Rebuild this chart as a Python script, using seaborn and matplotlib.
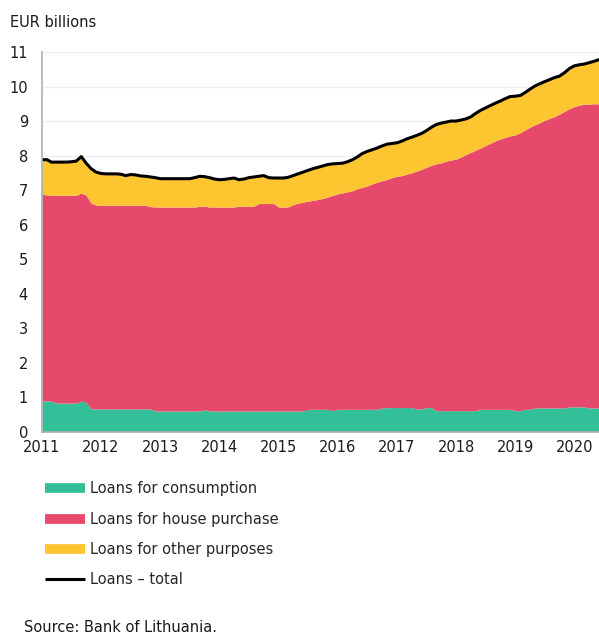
import seaborn as sns
import numpy as np
import pandas as pd
import matplotlib.pyplot as plt
from matplotlib.lines import Line2D

# Data (EUR billions, monthly, Jan 2011 - Jun 2020) #

months = pd.date_range("2011-01-01", "2020-06-01", freq="MS")

consumption = [
	0.89, 0.89, 0.89, 0.83, 0.83, 0.83, 0.83, 0.83, 0.89, 0.85, 0.66, 0.66,
	0.66, 0.66, 0.66, 0.66, 0.66, 0.66, 0.66, 0.66, 0.66, 0.66, 0.66, 0.60,
	0.60, 0.60, 0.60, 0.60, 0.60, 0.60, 0.60, 0.60, 0.60, 0.64, 0.60, 0.60,
	0.60, 0.60, 0.60, 0.60, 0.60, 0.60, 0.60, 0.60, 0.60, 0.60, 0.60, 0.60,
	0.60, 0.60, 0.60, 0.60, 0.60, 0.60, 0.65, 0.65, 0.65, 0.65, 0.65, 0.61,
	0.65, 0.65, 0.65, 0.65, 0.65, 0.65, 0.65, 0.65, 0.65, 0.69, 0.70, 0.70,
	0.70, 0.70, 0.70, 0.70, 0.66, 0.66, 0.70, 0.70, 0.61, 0.61, 0.61, 0.61,
	0.61, 0.61, 0.61, 0.61, 0.61, 0.65, 0.65, 0.65, 0.65, 0.65, 0.65, 0.65,
	0.61, 0.61, 0.65, 0.65, 0.69, 0.69, 0.69, 0.69, 0.69, 0.69, 0.69, 0.72,
	0.72, 0.72, 0.72, 0.69, 0.69, 0.69,
]

house_purchase = [
	5.99, 5.97, 5.96, 6.02, 6.02, 6.02, 6.02, 6.02, 6.03, 6.00, 5.96, 5.91,
	5.90, 5.90, 5.90, 5.90, 5.90, 5.90, 5.90, 5.90, 5.90, 5.90, 5.86, 5.91,
	5.91, 5.91, 5.91, 5.91, 5.91, 5.91, 5.91, 5.91, 5.93, 5.89, 5.91, 5.91,
	5.91, 5.91, 5.91, 5.91, 5.93, 5.93, 5.93, 5.93, 6.01, 6.01, 6.01, 6.01,
	5.91, 5.91, 5.91, 5.98, 6.02, 6.05, 6.03, 6.05, 6.08, 6.11, 6.15, 6.24,
	6.24, 6.27, 6.30, 6.33, 6.39, 6.43, 6.47, 6.53, 6.58, 6.58, 6.61, 6.66,
	6.70, 6.72, 6.76, 6.80, 6.89, 6.94, 6.96, 7.02, 7.15, 7.18, 7.23, 7.26,
	7.29, 7.35, 7.42, 7.48, 7.55, 7.57, 7.64, 7.71, 7.78, 7.83, 7.88, 7.92,
	7.99, 8.05, 8.09, 8.17, 8.20, 8.26, 8.33, 8.39, 8.44, 8.51, 8.59, 8.64,
	8.70, 8.74, 8.77, 8.80, 8.81, 8.81,
]

other_purposes = [
	1.00, 1.02, 0.96, 0.96, 0.96, 0.96, 0.97, 0.99, 1.05, 0.93, 1.00, 0.95,
	0.92, 0.91, 0.91, 0.91, 0.90, 0.86, 0.89, 0.88, 0.85, 0.84, 0.86, 0.85,
	0.82, 0.82, 0.82, 0.82, 0.82, 0.82, 0.82, 0.85, 0.87, 0.86, 0.85, 0.81,
	0.79, 0.80, 0.82, 0.84, 0.77, 0.79, 0.83, 0.85, 0.79, 0.81, 0.75, 0.74,
	0.84, 0.84, 0.86, 0.84, 0.85, 0.87, 0.89, 0.92, 0.93, 0.94, 0.94, 0.91,
	0.88, 0.86, 0.87, 0.90, 0.92, 0.98, 1.00, 0.99, 0.99, 1.01, 1.02, 0.99,
	0.97, 1.00, 1.02, 1.03, 1.03, 1.04, 1.06, 1.10, 1.14, 1.15, 1.13, 1.13,
	1.10, 1.07, 1.03, 1.03, 1.06, 1.09, 1.09, 1.09, 1.09, 1.10, 1.12, 1.14,
	1.12, 1.08, 1.08, 1.10, 1.12, 1.13, 1.12, 1.12, 1.13, 1.10, 1.12, 1.16,
	1.18, 1.17, 1.16, 1.20, 1.23, 1.28,
]

labels = ["Loans for consumption", "Loans for house purchase",
	"Loans for other purposes", "Loans \u2013 total"]
colors = ["#33bf97", "#e6496c", "#fdc631", "#000000"]
year_ticks = list(range(2011, 2021))

df = pd.DataFrame({
	"month": months,
	"consumption": consumption,
	"house": house_purchase,
	"other": other_purposes,
})
df["total"] = df["consumption"] + df["house"] + df["other"]

# Plot #

sns.set_style("white")
plt.rcParams["font.family"] = ["DejaVu Sans"]

fig = plt.figure(figsize=(5.99, 6.34), dpi=100)
ax = fig.add_axes([0.070, 0.319, 0.930, 0.599])

ax.stackplot(df["month"], df["consumption"], df["house"], df["other"],
	colors=colors[:3], linewidth=0)
sns.lineplot(data=df, x="month", y="total", color=colors[3], linewidth=2.2, ax=ax)

ax.set_ylim(0, 11)
ax.set_yticks(range(0, 12))
ax.set_xlim(months[0], months[-1])
ax.set_xticks([pd.Timestamp(f"{y}-01-01") for y in year_ticks])
ax.set_xticklabels([str(y) for y in year_ticks])
ax.tick_params(axis="both", length=0, labelsize=10.5, colors="#1a1a1a")
ax.tick_params(axis="y", pad=10)
ax.tick_params(axis="x", pad=6)
ax.set_xlabel("")
ax.set_ylabel("")

ax.grid(axis="y", color="#eeeeee", linewidth=1)
ax.set_axisbelow(True)
for side in ["top", "right"]:
	ax.spines[side].set_visible(False)
for side in ["left", "bottom"]:
	ax.spines[side].set_color("#b0b0b0")
	ax.spines[side].set_linewidth(1.2)

fig.text(0.017, 0.965, "EUR billions", fontsize=10.5, color="#1a1a1a", va="center")

handles = [Line2D([0], [0], color=c, linewidth=7 if i < 3 else 2.2,
	solid_capstyle="butt") for i, c in enumerate(colors)]
fig.legend(handles, labels, loc="upper left", bbox_to_anchor=(0.065, 0.250),
	frameon=False, fontsize=10.5, handlelength=2.75, handletextpad=0.35,
	labelspacing=1.05, borderaxespad=0)

fig.text(0.040, 0.010, "Source: Bank of Lithuania.", fontsize=10.5, color="#1a1a1a", va="center")

plt.savefig("out.png", dpi=100)
